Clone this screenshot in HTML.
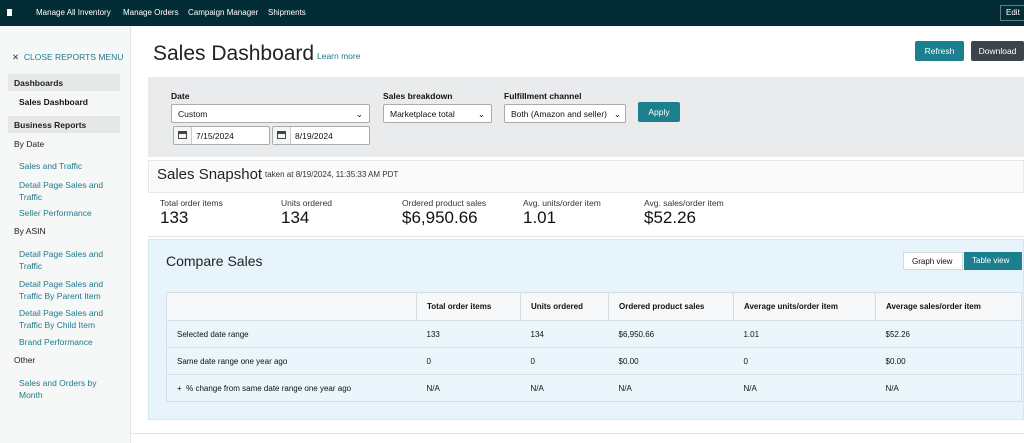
<!DOCTYPE html>
<html><head><style>
*{margin:0;padding:0;box-sizing:border-box}
body{width:1024px;height:443px;overflow:hidden;background:#fff;font-family:"Liberation Sans",sans-serif;color:#111;position:relative}
.a{position:absolute;white-space:nowrap}
.top{left:0;top:0;width:1024px;height:26px;background:#022d36}
.top span{position:absolute;top:8px;color:#fff;font-size:8px}
.side{left:0;top:26px;width:131px;height:417px;background:#f6f7f7;border-right:1px solid #e3e5e5}
.lk{color:#1e7a8a;font-size:8.5px}
.sb{font-size:8.5px;color:#222}
.box{position:absolute;left:8px;width:112px;height:17px;background:#e6e8e8}
.sel{position:absolute;background:#fff;border:1px solid #a8acae;border-radius:2px;font-size:8.5px;padding:4px 6px;height:19px}
.lab{font-size:8.5px;font-weight:bold}
.btn{position:absolute;border-radius:2px;font-size:8.5px;color:#fff;text-align:center}
.ml{font-size:8.5px;color:#333}
.mv{font-size:17px;color:#111}
.cal{position:absolute;left:0;top:0;width:18px;height:17px;border-right:1px solid #c8ccce;background:#f4f5f5}
.cal i{position:absolute;left:4px;top:4px;width:9px;height:8px;border:1.5px solid #444;border-top-width:3px}
table{position:absolute;left:166px;top:292px;width:856px;border-collapse:collapse;font-size:8px;border:1px solid #d5dde2}
td{height:27px;padding-left:10px;border-top:1px solid #d5dde2}
tr.h td{background:#f7f8f9;font-weight:bold;height:28px}
tr.h td+td{border-left:1px solid #d5dde2}
tr.r td{background:#eaf5fc}
</style></head><body>
<div class="a top">
<span style="left:7px;top:9px;width:5px;height:7px;background:#fff"></span>
<span style="left:36px">Manage All Inventory</span><span style="left:123px">Manage Orders</span><span style="left:188px">Campaign Manager</span><span style="left:268px">Shipments</span>
<span style="left:1000px;top:5px;border:1px solid #6a7a80;padding:2px 5px;width:30px;height:16px">Edit</span>
</div>
<div class="a side"></div>
<div class="a lk" style="left:12px;top:52px"><span style="color:#333">✕</span>&nbsp; CLOSE REPORTS MENU</div>
<div class="box" style="top:74px"></div><div class="a sb" style="left:14px;top:78px;font-weight:bold">Dashboards</div>
<div class="a sb" style="left:19px;top:97px;font-weight:bold;color:#111">Sales Dashboard</div>
<div class="box" style="top:116px"></div><div class="a sb" style="left:14px;top:120px;font-weight:bold">Business Reports</div>
<div class="a sb" style="left:14px;top:139px">By Date</div>
<div class="a lk" style="left:19px;top:161px">Sales and Traffic</div>
<div class="a lk" style="left:19px;top:179px;line-height:12px">Detail Page Sales and<br>Traffic</div>
<div class="a lk" style="left:19px;top:208px">Seller Performance</div>
<div class="a sb" style="left:14px;top:226px">By ASIN</div>
<div class="a lk" style="left:19px;top:248px;line-height:12px">Detail Page Sales and<br>Traffic</div>
<div class="a lk" style="left:19px;top:278px;line-height:12px">Detail Page Sales and<br>Traffic By Parent Item</div>
<div class="a lk" style="left:19px;top:307px;line-height:12px">Detail Page Sales and<br>Traffic By Child Item</div>
<div class="a lk" style="left:19px;top:337px">Brand Performance</div>
<div class="a sb" style="left:14px;top:355px">Other</div>
<div class="a lk" style="left:19px;top:377px;line-height:12px">Sales and Orders by<br>Month</div>

<div class="a" style="left:153px;top:42px;font-size:21px;color:#222">Sales Dashboard</div>
<div class="a lk" style="left:317px;top:51px">Learn more</div>
<div class="btn" style="left:915px;top:41px;width:49px;height:20px;background:#1b7f8e;padding-top:5px">Refresh</div>
<div class="btn" style="left:971px;top:41px;width:53px;height:20px;background:#3c434c;padding-top:5px">Download</div>

<div class="a" style="left:148px;top:77px;width:876px;height:80px;background:#e9ebed"></div>
<div class="a lab" style="left:171px;top:91px">Date</div>
<div class="sel" style="left:171px;top:104px;width:199px">Custom<span style="position:absolute;right:6px">⌄</span></div>
<div class="sel" style="left:173px;top:126px;width:97px;padding-left:22px"><span class="cal"><i></i></span>7/15/2024</div>
<div class="sel" style="left:272px;top:126px;width:98px;padding-left:22px"><span class="cal"><i></i></span>8/19/2024</div>
<div class="a lab" style="left:383px;top:91px">Sales breakdown</div>
<div class="sel" style="left:383px;top:104px;width:109px">Marketplace total<span style="position:absolute;right:6px">⌄</span></div>
<div class="a lab" style="left:504px;top:91px">Fulfillment channel</div>
<div class="sel" style="left:504px;top:104px;width:122px">Both (Amazon and seller)<span style="position:absolute;right:4px">⌄</span></div>
<div class="btn" style="left:638px;top:102px;width:42px;height:20px;background:#1b7f8e;padding-top:5px">Apply</div>

<div class="a" style="left:148px;top:160px;width:876px;height:33px;background:#fafafa;border:1px solid #e6e8e8"></div>
<div class="a" style="left:157px;top:166px;font-size:15px;color:#222">Sales Snapshot</div>
<div class="a ml" style="left:265px;top:170px;font-size:8px">taken at 8/19/2024, 11:35:33 AM PDT</div>
<div class="a ml" style="left:160px;top:198px">Total order items</div><div class="a mv" style="left:160px;top:208px">133</div>
<div class="a ml" style="left:281px;top:198px">Units ordered</div><div class="a mv" style="left:281px;top:208px">134</div>
<div class="a ml" style="left:402px;top:198px">Ordered product sales</div><div class="a mv" style="left:402px;top:208px">$6,950.66</div>
<div class="a ml" style="left:523px;top:198px">Avg. units/order item</div><div class="a mv" style="left:523px;top:208px">1.01</div>
<div class="a ml" style="left:644px;top:198px">Avg. sales/order item</div><div class="a mv" style="left:644px;top:208px">$52.26</div>
<div class="a" style="left:148px;top:236px;width:876px;height:1px;background:#e3e6e8"></div>

<div class="a" style="left:148px;top:239px;width:876px;height:181px;background:#e8f4fb;border:1px solid #dbe6ec"></div>
<div class="a" style="left:166px;top:253px;font-size:14px;color:#222">Compare Sales</div>
<div class="a" style="left:903px;top:252px;width:60px;height:18px;background:#fff;border:1px solid #d5d9db;font-size:8px;padding:4px 0 0 8px">Graph view</div>
<div class="a" style="left:964px;top:252px;width:58px;height:18px;background:#1b7f8e;color:#fff;font-size:8px;padding:4px 0 0 8px">Table view</div>
<table>
<tr class="h"><td style="width:250px"></td><td style="width:104px">Total order items</td><td style="width:88px">Units ordered</td><td style="width:125px">Ordered product sales</td><td style="width:142px">Average units/order item</td><td>Average sales/order item</td></tr>
<tr class="r"><td>Selected date range</td><td>133</td><td>134</td><td>$6,950.66</td><td>1.01</td><td>$52.26</td></tr>
<tr class="r"><td>Same date range one year ago</td><td>0</td><td>0</td><td>$0.00</td><td>0</td><td>$0.00</td></tr>
<tr class="r"><td>+&nbsp; % change from same date range one year ago</td><td>N/A</td><td>N/A</td><td>N/A</td><td>N/A</td><td>N/A</td></tr>
</table>
<div class="a" style="left:131px;top:433px;width:893px;height:1px;background:#e3e6e8"></div>
</body></html>
